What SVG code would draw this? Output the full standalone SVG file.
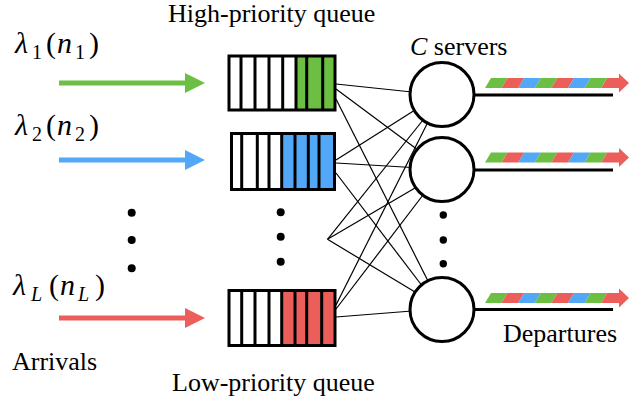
<svg xmlns="http://www.w3.org/2000/svg" width="629" height="406" viewBox="0 0 629 406">
<style>
text{font-family:"Liberation Serif","Times New Roman",serif;fill:#000}
.lbl{font-size:26px}
.m{font-size:30px}
.s{font-size:20px}
.it{font-style:italic}
.box{fill:none;stroke:#000;stroke-width:3}
.div{stroke:#000;stroke-width:3}
.srv{fill:#fff;stroke:#000;stroke-width:3}
.out{stroke:#000;stroke-width:3}
.con line{stroke:#000;stroke-width:1.2}
.g{fill:#6CBF43}.b{fill:#52A8F7}.r{fill:#EC5E5A}
</style>
<defs>
<g id="stripes">
<polygon class="g" points="0,5 16.6,5 22.6,-5 6,-5"/>
<polygon class="r" points="16.6,5 33.2,5 39.2,-5 22.6,-5"/>
<polygon class="b" points="33.2,5 49.8,5 55.8,-5 39.2,-5"/>
<polygon class="g" points="49.8,5 66.4,5 72.4,-5 55.8,-5"/>
<polygon class="r" points="66.4,5 83,5 89,-5 72.4,-5"/>
<polygon class="b" points="83,5 99.6,5 105.6,-5 89,-5"/>
<polygon class="g" points="99.6,5 116.2,5 122.2,-5 105.6,-5"/>
<polygon class="r" points="116.2,5 135,5 135,-5 122.2,-5"/>
<polygon class="r" points="134,-9.5 144,0 134,9.5"/>
</g>
</defs>

<g id="titles">
<text class="lbl" x="168" y="22">High-priority queue</text>
<text class="lbl" x="172" y="391">Low-priority queue</text>
<text class="lbl" x="410" y="55"><tspan class="it">C</tspan> servers</text>
<text class="lbl" x="503" y="342">Departures</text>
<text class="lbl" x="12" y="370">Arrivals</text>
</g>

<g id="arrival-1">
<text class="m"><tspan class="it" x="15" y="53">λ</tspan><tspan class="s" x="32" y="59">1</tspan><tspan x="46" y="53">(</tspan><tspan class="it" x="57" y="53">n</tspan><tspan class="s" x="75" y="59">1</tspan><tspan x="89" y="53">)</tspan></text>
<line x1="59" y1="83" x2="188" y2="83" stroke="#6CBF43" stroke-width="5"/>
<polygon class="g" points="185,73 205,83 185,93"/>
</g>
<g id="arrival-2">
<text class="m"><tspan class="it" x="15" y="135">λ</tspan><tspan class="s" x="32" y="141">2</tspan><tspan x="46" y="135">(</tspan><tspan class="it" x="57" y="135">n</tspan><tspan class="s" x="75" y="141">2</tspan><tspan x="89" y="135">)</tspan></text>
<line x1="59" y1="160" x2="188" y2="160" stroke="#52A8F7" stroke-width="5"/>
<polygon class="b" points="185,150 205,160 185,170"/>
</g>
<g id="arrival-L">
<text class="m"><tspan class="it" x="13" y="295">λ</tspan><tspan class="s it" x="31" y="301">L</tspan><tspan x="49" y="295">(</tspan><tspan class="it" x="60" y="295">n</tspan><tspan class="s it" x="78" y="301">L</tspan><tspan x="95" y="295">)</tspan></text>
<line x1="59" y1="318" x2="188" y2="318" stroke="#EC5E5A" stroke-width="5"/>
<polygon class="r" points="185,308 205,318 185,328"/>
</g>

<g id="dots">
<circle cx="131.7" cy="212.7" r="4"/><circle cx="131.7" cy="240" r="4"/><circle cx="131.7" cy="268.3" r="4"/>
<circle cx="280.7" cy="212.3" r="4"/><circle cx="280.7" cy="236.7" r="4"/><circle cx="280.7" cy="261.7" r="4"/>
<circle cx="443.3" cy="215" r="3.7"/><circle cx="443.3" cy="240" r="3.7"/><circle cx="443.3" cy="263.7" r="3.7"/>
</g>

<g id="connectors" class="con">
<line x1="336" y1="84" x2="412" y2="92"/>
<line x1="336" y1="89" x2="418" y2="150"/>
<line x1="336" y1="99" x2="429" y2="283"/>
<line x1="336" y1="160" x2="415" y2="110"/>
<line x1="336" y1="163" x2="412" y2="167.5"/>
<line x1="336" y1="173" x2="423" y2="287"/>
<line x1="327.5" y1="239.3" x2="423" y2="120"/>
<line x1="327.5" y1="239.3" x2="415" y2="188"/>
<line x1="327.5" y1="239.3" x2="415" y2="292"/>
<line x1="336" y1="305" x2="428" y2="122"/>
<line x1="336" y1="309" x2="423" y2="195"/>
<line x1="336" y1="317" x2="412" y2="311"/>
</g>

<g id="queue-1">
<rect x="296" y="56" width="39" height="54" class="g"/>
<line class="div" x1="241" y1="56" x2="241" y2="110"/>
<line class="div" x1="255" y1="56" x2="255" y2="110"/>
<line class="div" x1="269" y1="56" x2="269" y2="110"/>
<line class="div" x1="282.7" y1="56" x2="282.7" y2="110"/>
<line class="div" x1="296" y1="56" x2="296" y2="110"/>
<line class="div" x1="306.7" y1="56" x2="306.7" y2="110"/>
<line class="div" x1="322.7" y1="56" x2="322.7" y2="110"/>
<rect class="box" x="229" y="56" width="106" height="54"/>
</g>
<g id="queue-2">
<rect x="281.7" y="133.5" width="53" height="56" class="b"/>
<line class="div" x1="241.7" y1="133.5" x2="241.7" y2="189.5"/>
<line class="div" x1="257.3" y1="133.5" x2="257.3" y2="189.5"/>
<line class="div" x1="269" y1="133.5" x2="269" y2="189.5"/>
<line class="div" x1="281.7" y1="133.5" x2="281.7" y2="189.5"/>
<line class="div" x1="295" y1="133.5" x2="295" y2="189.5"/>
<line class="div" x1="308.3" y1="133.5" x2="308.3" y2="189.5"/>
<line class="div" x1="319" y1="133.5" x2="319" y2="189.5"/>
<rect class="box" x="231.5" y="133.5" width="103" height="56"/>
</g>
<g id="queue-L">
<rect x="281.7" y="290.5" width="53" height="55" class="r"/>
<line class="div" x1="241.7" y1="290.5" x2="241.7" y2="345.5"/>
<line class="div" x1="255" y1="290.5" x2="255" y2="345.5"/>
<line class="div" x1="269" y1="290.5" x2="269" y2="345.5"/>
<line class="div" x1="281.7" y1="290.5" x2="281.7" y2="345.5"/>
<line class="div" x1="295" y1="290.5" x2="295" y2="345.5"/>
<line class="div" x1="306.7" y1="290.5" x2="306.7" y2="345.5"/>
<line class="div" x1="321.7" y1="290.5" x2="321.7" y2="345.5"/>
<rect class="box" x="229" y="290.5" width="106" height="55"/>
</g>

<g id="server-1">
<circle class="srv" cx="442" cy="94.5" r="32"/>
<line class="out" x1="474" y1="95" x2="613" y2="95"/>
<use href="#stripes" transform="translate(485,83)"/>
</g>
<g id="server-2">
<circle class="srv" cx="442" cy="169.5" r="32"/>
<line class="out" x1="474" y1="170" x2="613" y2="170"/>
<use href="#stripes" transform="translate(485,157.5)"/>
</g>
<g id="server-C">
<circle class="srv" cx="442" cy="309.5" r="32"/>
<line class="out" x1="474" y1="309.5" x2="613" y2="309.5"/>
<use href="#stripes" transform="translate(485,298)"/>
</g>
</svg>
